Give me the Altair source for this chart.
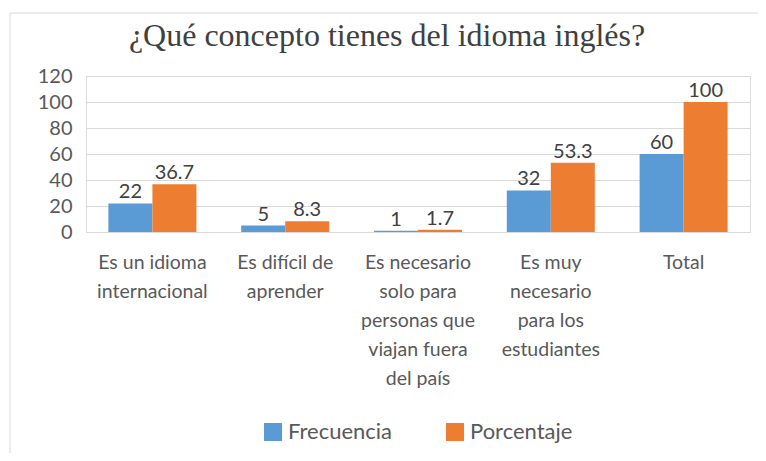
import altair as alt
import pandas as pd

categories = [
    "Es un idioma|internacional",
    "Es difícil de|aprender",
    "Es necesario|solo para|personas que|viajan fuera|del país",
    "Es muy|necesario|para los|estudiantes",
    "Total",
]
frecuencia = [22, 5, 1, 32, 60]
porcentaje = [36.7, 8.3, 1.7, 53.3, 100]
series = ["Frecuencia", "Porcentaje"]
colors = ["#5B9BD5", "#ED7D31"]
y_ticks = [0, 20, 40, 60, 80, 100, 120]

rows = []
for c, f, p in zip(categories, frecuencia, porcentaje):
    rows.append({"cat": c, "serie": series[0], "valor": f})
    rows.append({"cat": c, "serie": series[1], "valor": p})
df = pd.DataFrame(rows)

FONT = "Lato"
TXT = "#595959"

x_enc = alt.X("cat:N", sort=categories, title=None,
              scale=alt.Scale(paddingInner=0.337, paddingOuter=0.1685),
              axis=alt.Axis(labelExpr="split(datum.label, '|')", labelAngle=0,
                            labelFont=FONT, labelFontSize=19.5, labelColor=TXT,
                            labelLineHeight=29, labelPadding=30, labelBaseline="middle",
                            ticks=False, domain=True, domainColor="#d9d9d9",
                            labelLimit=200))
y_enc = alt.Y("valor:Q", title=None,
              scale=alt.Scale(domain=[0, 120], nice=False),
              axis=alt.Axis(values=y_ticks, labelFont=FONT, labelFontSize=20,
                            labelColor=TXT, labelPadding=14, ticks=False, domain=False,
                            grid=True, gridColor="#d9d9d9", gridWidth=1))

base = alt.Chart(df).encode(
    x=x_enc,
    xOffset=alt.XOffset("serie:N", sort=series, scale=alt.Scale(paddingInner=0, paddingOuter=0)),
    y=y_enc,
)

bars = base.mark_bar(size=44).encode(
    color=alt.Color("serie:N", sort=series,
                    scale=alt.Scale(domain=series, range=colors),
                    legend=alt.Legend(title=None, orient="none", direction="horizontal",
                                      legendX=176, legendY=345, padding=0,
                                      symbolType="square", symbolSize=324,
                                      symbolStrokeWidth=0, labelFont=FONT,
                                      labelFontSize=22, labelColor=TXT,
                                      labelOffset=4, columnPadding=51)),
)

labels = base.mark_text(baseline="alphabetic", dy=-5, font=FONT, fontSize=20,
                        color="#404040").encode(text=alt.Text("valor:Q"))

border = alt.Chart(pd.DataFrame({"k": [0]})).mark_rect(
    fill=None, stroke="#d9d9d9", strokeWidth=1, clip=False
).encode(x=alt.value(-76), x2=alt.value(760), y=alt.value(-63), y2=alt.value(500))

chart = alt.layer(border, bars, labels).properties(
    width=664,
    height=156,
    title=alt.TitleParams(
        "¿Qué concepto tienes del idioma inglés?",
        font="Liberation Serif", fontSize=32, fontWeight="normal", color="#404040",
        anchor="middle", frame="group", baseline="alphabetic", offset=24, dx=-31, dy=89,
    ),
    autosize=alt.AutoSizeParams(type="none"),
    padding={"left": 78, "top": 68, "right": 8, "bottom": 221},
).configure_view(stroke=None).configure(background="white")

chart.save("out.html", embed_options={"renderer": "svg", "actions": False})
